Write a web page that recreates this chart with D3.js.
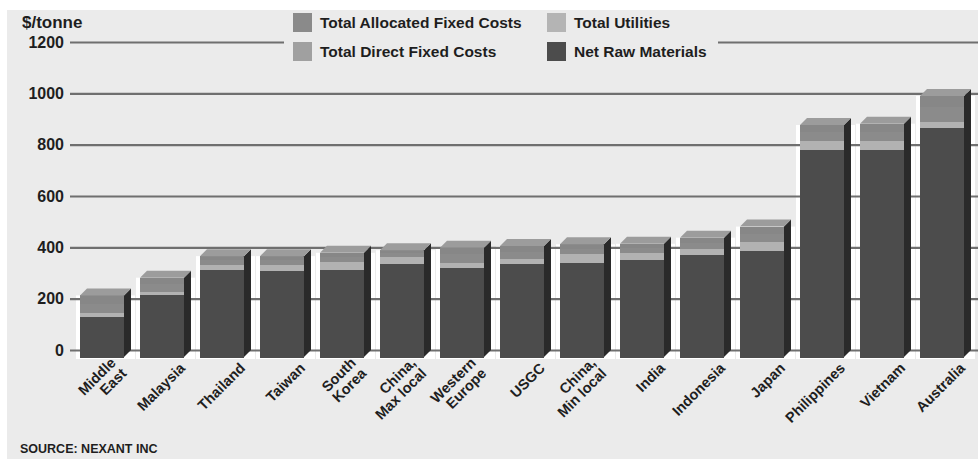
<!DOCTYPE html>
<html>
<head>
<meta charset="utf-8">
<script src="https://cdn.jsdelivr.net/npm/d3@7"></script>
<style>
  html, body { margin: 0; padding: 0; background: #fff; }
  svg { display: block; }
</style>
</head>
<body>
<svg id="chart" width="978" height="459"></svg>
<script>
// Production cost build-up by region, $/tonne
const categories = ["Middle\nEast", "Malaysia", "Thailand", "Taiwan", "South\nKorea", "China,\nMax local",
  "Western\nEurope", "USGC", "China,\nMin local", "India", "Indonesia", "Japan", "Philippines", "Vietnam", "Australia"];
const netRawMaterials          = [156, 242, 342, 338, 342, 363, 348, 363, 370, 378, 400, 416, 809, 809, 893];
const totalUtilities           = [16, 15, 19, 23, 32, 30, 22, 22, 32, 28, 22, 33, 35, 33, 26];
const totalDirectFixedCosts    = [38, 30, 18, 18, 18, 13, 32, 27, 21, 20, 25, 34, 34, 38, 56];
const totalAllocatedFixedCosts = [30, 22, 14, 14, 14, 10, 24, 20, 16, 15, 18, 25, 26, 29, 42];
const seriesNames = {
  net: "Net Raw Materials",
  util: "Total Utilities",
  direct: "Total Direct Fixed Costs",
  alloc: "Total Allocated Fixed Costs"
};
const yTicks = [0, 200, 400, 600, 800, 1000, 1200];
const unitLabel = "$/tonne";
const sourceNote = "SOURCE: NEXANT INC";

const W = 978, H = 459;
const FONT = "'Liberation Sans', Arial, Helvetica, sans-serif";
const INK = "#1e1e1e";
const BG = "#ebebeb";

const svg = d3.select("#chart");

const x = d3.scaleBand().domain(categories).range([72, 972]).paddingInner(0.2667).paddingOuter(0.1333);
const y = d3.scaleLinear().domain([0, 1200]).range([350, 42]);
const bw = x.bandwidth();
const depthX = 7, depthY = 7;          // oblique depth of the 3D bars
const yFront = v => y(v) + depthY;      // front face sits in front of the back wall

const rows = categories.map((c, i) => ({
  category: c,
  net: netRawMaterials[i],
  util: totalUtilities[i],
  direct: totalDirectFixedCosts[i],
  alloc: totalAllocatedFixedCosts[i]
}));
const keys = ["net", "util", "direct", "alloc"];
const layers = d3.stack().keys(keys)(rows);
const fills = { net: "#4c4c4c", util: "#b2b2b2", direct: "#8b8b8b", alloc: "#878787" };
const legendFills = { net: "#4c4c4c", util: "#b4b4b4", direct: "#a0a0a0", alloc: "#8a8a8a" };
const sideFill = "#2a2a2a";
const topFill = "#9c9c9c";

// panel background
svg.append("rect").attr("x", 7).attr("y", 10).attr("width", W - 7).attr("height", H - 10).attr("fill", BG);

// white gap strip around each bar
const totals = rows.map(r => r.net + r.util + r.direct + r.alloc);
svg.append("g").selectAll("rect").data(rows).join("rect")
  .attr("x", d => x(d.category) - 4)
  .attr("y", (d, i) => yFront(totals[i]))
  .attr("width", bw + depthX + 8)
  .attr("height", (d, i) => yFront(0) + 2 - yFront(totals[i]))
  .attr("fill", "#ffffff");

// value axis with full-width gridlines
const axis = svg.append("g").attr("transform", "translate(70,0)")
  .call(d3.axisLeft(y).tickValues(yTicks).tickSize(-(W - 70)).tickPadding(6).tickFormat(d3.format("d")));
axis.select(".domain").remove();
axis.selectAll(".tick line").attr("stroke", "#6f6f6f").attr("stroke-width", 2.2);
axis.selectAll(".tick text")
  .attr("fill", INK).style("font-family", FONT).style("font-size", "16px").style("font-weight", "bold");

// legend panel interrupts the top gridline
svg.append("rect").attr("x", 284).attr("y", 10).attr("width", 434).attr("height", 58).attr("fill", BG);

// stacked 3D bars
const barG = svg.append("g").attr("shape-rendering", "crispEdges");
layers.forEach(layer => {
  const key = layer.key;
  layer.forEach(d => {
    const cat = d.data.category;
    const x0 = x(cat);
    const yb = yFront(d[0]), yt = yFront(d[1]);
    barG.append("rect")
      .attr("x", x0).attr("y", yt).attr("width", bw).attr("height", yb - yt + 0.5)
      .attr("fill", fills[key]);
  });
});
// side faces, one per bar
rows.forEach((r, i) => {
  const x0 = x(r.category);
  const yt = yFront(totals[i]), yb = yFront(0);
  barG.append("path")
    .attr("shape-rendering", "auto")
    .attr("d", `M${x0 + bw},${yt} L${x0 + bw + depthX},${yt - depthY} L${x0 + bw + depthX},${yb - depthY} L${x0 + bw},${yb} Z`)
    .attr("fill", sideFill);
});
// top faces
layers[layers.length - 1].forEach(d => {
  const x0 = x(d.data.category);
  const yt = yFront(d[1]);
  barG.append("path")
    .attr("shape-rendering", "auto")
    .attr("d", `M${x0},${yt} L${x0 + depthX},${yt - depthY} L${x0 + bw + depthX},${yt - depthY} L${x0 + bw},${yt} Z`)
    .attr("fill", topFill);
});

// rotated category labels
const labelG = svg.append("g");
categories.forEach(c => {
  const lines = c.split("\n");
  const n = lines.length;
  const g = labelG.append("g")
    .attr("transform", `translate(${x(c) + bw + 2 - (n > 1 ? 4 : 0)},369) rotate(-45)`);
  const t = g.append("text")
    .attr("text-anchor", "end").attr("fill", INK)
    .style("font-family", FONT).style("font-size", "14.5px").style("font-weight", "bold");
  lines.forEach((ln, i) => {
    t.append("tspan").attr("x", 0).attr("y", (i - (n - 1) / 2) * 15).text(ln);
  });
});

// legend
const legendItems = [
  { key: "alloc", col: 0, row: 0 },
  { key: "util", col: 1, row: 0 },
  { key: "direct", col: 0, row: 1 },
  { key: "net", col: 1, row: 1 }
];
const colX = [293, 547], rowY = [13, 42];
const lg = svg.append("g");
legendItems.forEach(it => {
  const lx = colX[it.col], ly = rowY[it.row];
  lg.append("rect").attr("x", lx).attr("y", ly).attr("width", 19).attr("height", 19).attr("fill", legendFills[it.key]);
  lg.append("text").attr("x", lx + 27).attr("y", ly + 15)
    .attr("fill", INK).style("font-family", FONT).style("font-size", "15.5px").style("font-weight", "bold")
    .text(seriesNames[it.key]);
});

// unit and source
svg.append("text").attr("x", 22).attr("y", 28).attr("fill", INK)
  .style("font-family", FONT).style("font-size", "17px").style("font-weight", "bold").text(unitLabel);
svg.append("text").attr("x", 20).attr("y", 453).attr("fill", INK)
  .style("font-family", FONT).style("font-size", "12.5px").style("font-weight", "bold").text(sourceNote);
</script>
</body>
</html>
